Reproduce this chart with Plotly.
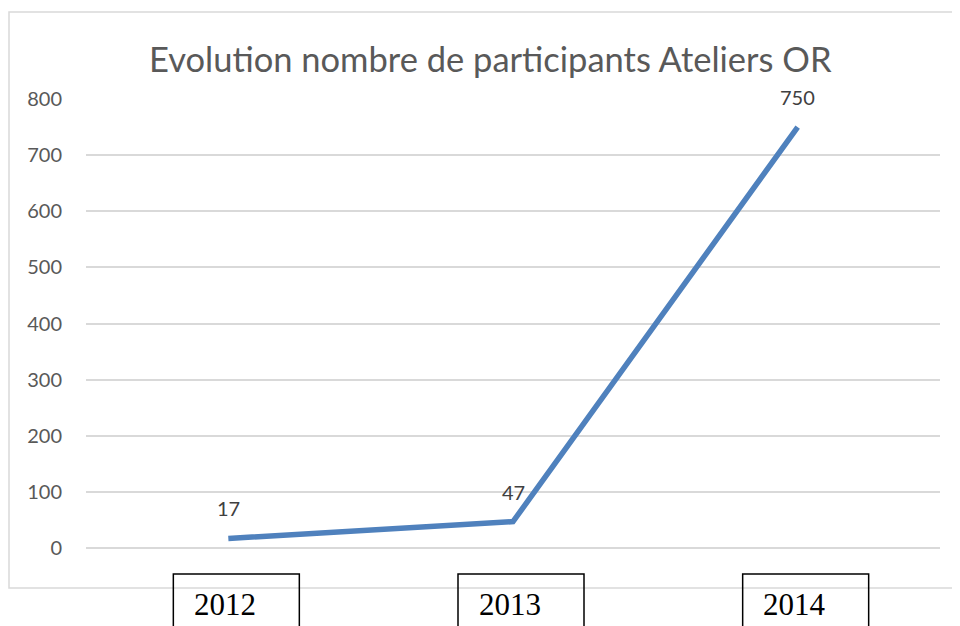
import plotly.graph_objects as go

years = ["2012", "2013", "2014"]
participants = [17, 47, 750]
y_ticks = [0, 100, 200, 300, 400, 500, 600, 700, 800]
title_text = "Evolution nombre de participants Ateliers OR"

OFF = 8  # default page body margin
W, H = 960 - OFF, 626 - OFF
ML, MR, MT, MB = 86 - OFF, 20, 99 - OFF, 78
PW = W - ML - MR
PH = H - MT - MB


def px_x(p):
    return (p - OFF - ML) / PW


def px_y(p):
    return 1 - (p - OFF - MT) / PH


fig = go.Figure()
fig.add_trace(go.Scatter(
    x=years, y=participants, mode="lines",
    line=dict(color="#4f81bd", width=5.5),
    hoverinfo="skip", showlegend=False,
))

annotations = []
for i, v in enumerate(participants):
    annotations.append(dict(
        x=i, y=v, xref="x", yref="y", text=str(v), showarrow=False,
        yshift=30, font=dict(family="Lato", size=20, color="#404040"),
    ))

shapes = []
n = len(years)
for i, yr in enumerate(years):
    cx = (i + 0.5) / n  # category centre in paper units
    shapes.append(dict(
        type="rect", xref="paper", yref="paper",
        x0=cx - 55 / PW, x1=cx + 71 / PW,
        y0=px_y(660), y1=px_y(574),
        line=dict(color="black", width=1.5), fillcolor="rgba(0,0,0,0)",
    ))
    annotations.append(dict(
        x=i, y=px_y(604), xref="x", yref="paper", text=yr, showarrow=False,
        xshift=-3, yanchor="middle",
        font=dict(family="Liberation Serif", size=31, color="black"),
    ))

# outer chart border
shapes.append(dict(
    type="rect", xref="paper", yref="paper",
    x0=px_x(9), x1=px_x(975), y0=px_y(588), y1=px_y(12),
    line=dict(color="#d9d9d9", width=1.5), fillcolor="rgba(0,0,0,0)",
    layer="below",
))

annotations.append(dict(
    x=px_x(490), y=px_y(58), xref="paper", yref="paper", text=title_text,
    showarrow=False, yanchor="middle", xanchor="center",
    font=dict(family="Lato", size=34.5, color="#595959"),
))

fig.update_layout(
    width=W, height=H,
    margin=dict(l=ML, r=MR, t=MT, b=MB),
    paper_bgcolor="white", plot_bgcolor="white",
    shapes=shapes, annotations=annotations,
    xaxis=dict(type="category", range=[-0.5, 2.5], showticklabels=False,
               showgrid=False, zeroline=False, showline=False, fixedrange=True),
    yaxis=dict(range=[0, 800], tickvals=y_ticks, showgrid=True,
               gridcolor="#d9d9d9", gridwidth=1.5, zeroline=True,
               zerolinecolor="#d9d9d9", zerolinewidth=1.5, showline=False,
               ticklabelstandoff=23,
               tickfont=dict(family="Lato", size=20, color="#595959"),
               fixedrange=True),
)

fig.write_html("out.html")
